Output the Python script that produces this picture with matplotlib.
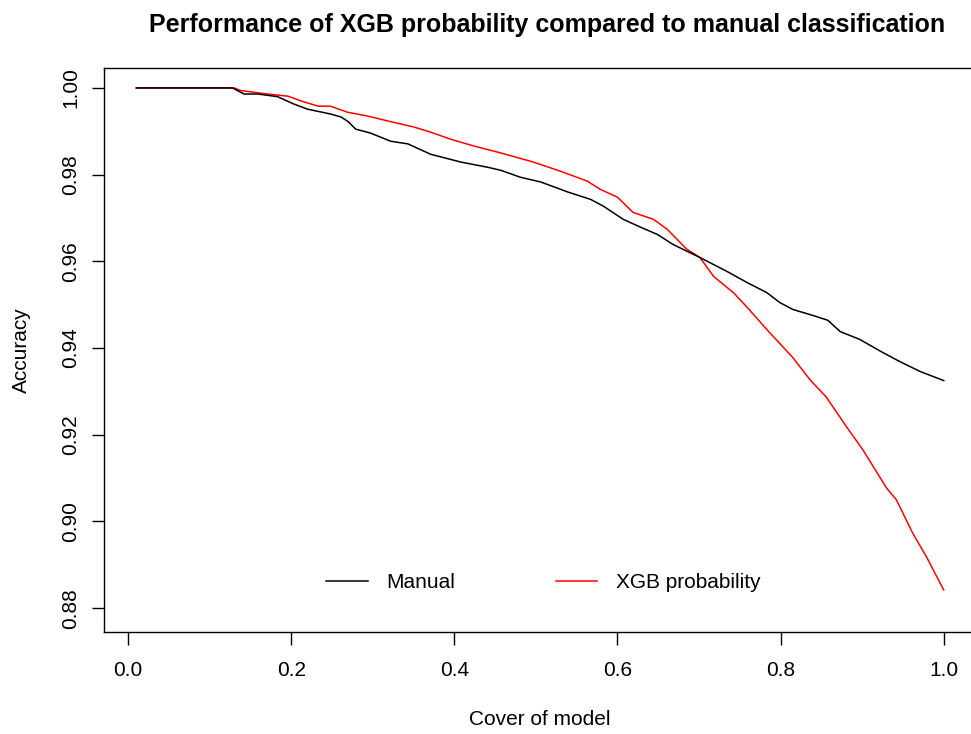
import matplotlib
matplotlib.use("Agg")
import matplotlib.pyplot as plt

# values
manual_x = [0.01, 0.128, 0.142, 0.159, 0.183, 0.203, 0.220, 0.248, 0.261, 0.270,
            0.279, 0.297, 0.322, 0.343, 0.371, 0.408, 0.441, 0.457, 0.481, 0.506,
            0.539, 0.567, 0.583, 0.607, 0.628, 0.649, 0.668, 0.701, 0.734, 0.759,
            0.783, 0.799, 0.815, 0.840, 0.858, 0.873, 0.897, 0.925, 0.946, 0.971, 1.000]
manual_y = [1.0, 1.0, 0.9986, 0.9986, 0.9980, 0.9963, 0.9951, 0.9940, 0.9933, 0.9922,
            0.9905, 0.9896, 0.9877, 0.9871, 0.9847, 0.9829, 0.9817, 0.9810, 0.9794, 0.9783,
            0.9760, 0.9743, 0.9727, 0.9697, 0.9679, 0.9662, 0.9639, 0.9609, 0.9577, 0.9551,
            0.9528, 0.9505, 0.9489, 0.9475, 0.9464, 0.9438, 0.9420, 0.9390, 0.9369, 0.9346, 0.9325]

xgb_x = [0.01, 0.130, 0.138, 0.171, 0.196, 0.212, 0.233, 0.248, 0.269, 0.294,
         0.318, 0.350, 0.371, 0.395, 0.424, 0.457, 0.497, 0.530, 0.563, 0.579,
         0.600, 0.619, 0.644, 0.661, 0.685, 0.701, 0.718, 0.742, 0.759, 0.783,
         0.815, 0.836, 0.856, 0.881, 0.901, 0.930, 0.942, 0.962, 0.979, 1.000]
xgb_y = [1.0, 1.0, 0.9994, 0.9986, 0.9981, 0.9970, 0.9958, 0.9958, 0.9944, 0.9935,
         0.9924, 0.9910, 0.9898, 0.9882, 0.9866, 0.9850, 0.9829, 0.9808, 0.9785, 0.9766,
         0.9748, 0.9713, 0.9697, 0.9674, 0.9628, 0.9609, 0.9565, 0.9528, 0.9494, 0.9443,
         0.9378, 0.9327, 0.9287, 0.9218, 0.9165, 0.9077, 0.9050, 0.8973, 0.8918, 0.8842]

x_ticks = [0.0, 0.2, 0.4, 0.6, 0.8, 1.0]
y_ticks = [0.88, 0.90, 0.92, 0.94, 0.96, 0.98, 1.00]

plt.rcParams['font.family'] = ['Liberation Sans', 'DejaVu Sans']
plt.rcParams['font.size'] = 15

fig = plt.figure(figsize=(9.71, 7.34), dpi=100)
ax = fig.add_axes([104 / 971, 102 / 734, 872 / 971, 564 / 734])

# red first so the black line sits on top where they overlap
l_xgb, = ax.plot(xgb_x, xgb_y, color='red', lw=1.1)
l_man, = ax.plot(manual_x, manual_y, color='black', lw=1.1)

ax.set_xlim(-0.0296, 1.0396)
ax.set_ylim(0.8745, 1.0046)
ax.set_xticks(x_ticks)
ax.set_xticklabels(['%.1f' % v for v in x_ticks])
ax.set_yticks(y_ticks)
ax.set_yticklabels(['%.2f' % v for v in y_ticks], rotation=90, va='center')
ax.tick_params(direction='out', length=9, width=1, pad=8)
ax.tick_params(axis='x', pad=12)

for s in ax.spines.values():
    s.set_linewidth(1.0)
# the box runs past the right edge of the image in the original
ax.spines['right'].set_visible(False)

ax.set_title('Performance of XGB probability compared to manual classification',
             fontsize=18, fontweight='bold', pad=26, x=0.508)
ax.set_xlabel('Cover of model')
ax.xaxis.set_label_coords(0.5, -0.139)
ax.set_ylabel('Accuracy')
ax.yaxis.set_label_coords(-0.084, 0.5)

ax.legend([l_man, l_xgb], ['Manual', 'XGB probability'], ncol=2, frameon=False,
          loc='center', bbox_to_anchor=(0.504, 0.087), handlelength=2.0,
          handletextpad=0.9, columnspacing=4.8, borderpad=0)

fig.savefig('out.png', dpi=100)
